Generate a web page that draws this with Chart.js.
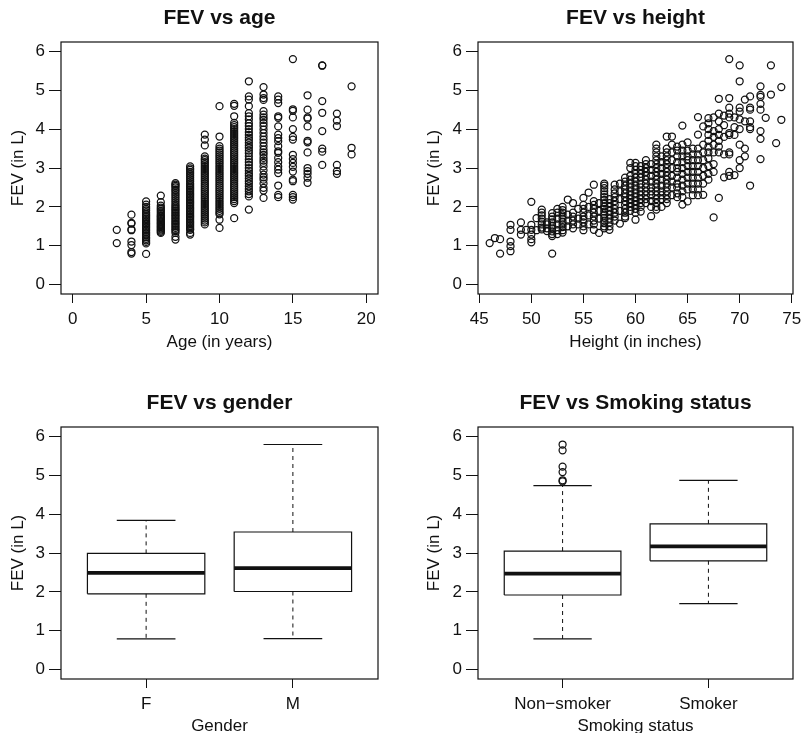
<!DOCTYPE html>
<html><head><meta charset="utf-8">
<script src="https://cdn.jsdelivr.net/npm/chart.js@4.4.1/dist/chart.umd.min.js"></script>
<style>
html,body{margin:0;padding:0;background:#fff;overflow:hidden;width:802px;height:733px}
canvas{position:absolute;display:block}
</style></head>
<body>
<canvas id="cAge" width="401" height="366" style="left:0;top:0"></canvas>
<canvas id="cHeight" width="401" height="366" style="left:401px;top:0"></canvas>
<canvas id="cGender" width="401" height="380" style="left:0;top:366px"></canvas>
<canvas id="cSmoke" width="401" height="380" style="left:401px;top:366px"></canvas>
<script>
// ---------------- data ----------------
const ageLevels = [3,4,5,6,7,8,9,10,11,12,13,14,15,16,17,18,19];
const fevByAge = [
  [1.41,1.07],
  [1.80,1.59,1.57,1.42,1.40,1.11,1.02,0.84,0.80],
  [2.14,2.06,2.00,1.95,1.91,1.86,1.82,1.78,1.74,1.70,1.66,1.62,1.58,1.55,1.51,1.47,1.43,1.39,1.35,1.31,1.27,1.22,1.18,1.14,1.10,1.06,0.79],
  [2.29,2.12,2.03,1.98,1.94,1.90,1.86,1.82,1.78,1.75,1.72,1.69,1.66,1.63,1.60,1.57,1.54,1.51,1.48,1.45,1.42,1.39,1.36,1.33],
  [2.61,2.57,2.54,2.50,2.45,2.41,2.36,2.31,2.26,2.21,2.16,2.11,2.06,2.02,1.98,1.94,1.90,1.86,1.82,1.78,1.74,1.70,1.66,1.62,1.58,1.54,1.50,1.46,1.42,1.38,1.33,1.23,1.16],
  [3.04,2.99,2.95,2.90,2.85,2.80,2.75,2.70,2.65,2.60,2.56,2.52,2.48,2.44,2.40,2.36,2.32,2.28,2.24,2.20,2.16,2.12,2.08,2.04,2.00,1.96,1.92,1.88,1.84,1.80,1.76,1.72,1.68,1.64,1.60,1.56,1.52,1.48,1.44,1.41,1.33,1.29],
  [3.86,3.73,3.58,3.30,3.24,3.20,3.15,3.10,3.05,3.00,2.95,2.90,2.85,2.80,2.75,2.70,2.65,2.60,2.55,2.50,2.45,2.40,2.35,2.30,2.25,2.20,2.15,2.10,2.05,2.00,1.95,1.90,1.85,1.80,1.75,1.70,1.65,1.60,1.55],
  [4.59,3.81,3.56,3.50,3.45,3.40,3.35,3.30,3.25,3.20,3.15,3.10,3.05,3.00,2.95,2.90,2.85,2.80,2.75,2.70,2.65,2.60,2.55,2.50,2.45,2.40,2.35,2.30,2.25,2.20,2.15,2.10,2.05,2.00,1.95,1.90,1.85,1.81,1.67,1.46],
  [4.65,4.60,4.33,4.16,4.10,4.05,4.00,3.95,3.90,3.85,3.80,3.75,3.70,3.65,3.60,3.55,3.50,3.45,3.40,3.35,3.30,3.25,3.20,3.15,3.10,3.05,3.00,2.95,2.90,2.85,2.80,2.75,2.70,2.65,2.60,2.55,2.50,2.45,2.40,2.35,2.30,2.25,2.20,2.15,2.10,1.71],
  [5.23,4.84,4.76,4.59,4.41,4.33,4.25,4.15,4.08,4.00,3.92,3.85,3.78,3.72,3.65,3.58,3.52,3.45,3.38,3.30,3.22,3.15,3.08,3.00,2.93,2.86,2.80,2.73,2.66,2.60,2.53,2.46,2.40,2.33,2.27,1.93],
  [5.08,4.89,4.80,4.75,4.46,4.37,4.30,4.24,4.16,4.08,3.99,3.90,3.81,3.73,3.65,3.56,3.47,3.40,3.34,3.26,3.19,3.13,3.04,2.94,2.83,2.76,2.70,2.60,2.49,2.42,2.23],
  [4.84,4.76,4.67,4.33,4.29,4.07,3.86,3.77,3.69,3.56,3.43,3.39,3.26,3.15,3.04,2.96,2.87,2.55,2.31,2.25],
  [5.80,4.51,4.47,4.30,4.00,3.80,3.73,3.34,3.23,3.13,3.03,2.91,2.70,2.66,2.31,2.25,2.19],
  [4.87,4.50,4.30,4.27,4.07,3.70,3.66,3.40,3.00,2.92,2.85,2.75,2.62],
  [5.64,5.63,4.72,4.42,3.95,3.50,3.42,3.08],
  [4.40,4.22,4.08,3.08,2.92,2.85],
  [5.10,3.52,3.35]
];
const heightLevels = [46,46.5,47,48,49,49.5,50,50.5,51,51.5,52,52.5,53,53.5,54,54.5,55,55.5,56,56.5,57,57.5,58,58.5,59,59.5,60,60.5,61,61.5,62,62.5,63,63.5,64,64.5,65,65.5,66,66.5,67,67.5,68,68.5,69,69.5,70,70.5,71,72,72.5,73,73.5,74];
const fevByHeight = [
  [1.07],
  [1.20],
  [1.17,0.80],
  [1.54,1.41,1.11,0.99,0.86],
  [1.60,1.41,1.29],
  [1.41],
  [2.13,1.54,1.41,1.29,1.17,1.09],
  [1.71,1.40],
  [1.93,1.85,1.78,1.70,1.62,1.55,1.47,1.42],
  [1.60,1.55,1.45,1.38],
  [1.84,1.75,1.68,1.60,1.52,1.45,1.37,1.30,1.25,0.80],
  [1.95,1.85,1.70,1.55,1.40,1.30],
  [2.00,1.92,1.85,1.78,1.70,1.62,1.55,1.48,1.40,1.34],
  [2.19,1.80,1.65,1.50],
  [2.10,1.85,1.75,1.65,1.55,1.45],
  [1.95,1.70,1.55],
  [2.23,2.05,1.95,1.85,1.75,1.68,1.60,1.50,1.40],
  [2.37,2.00,1.78,1.55],
  [2.57,2.15,2.05,1.95,1.85,1.75,1.65,1.55,1.41],
  [2.10,1.90,1.70,1.33],
  [2.60,2.55,2.48,2.40,2.32,2.25,2.18,2.10,2.02,1.95,1.88,1.80,1.72,1.65,1.58,1.50,1.45],
  [2.20,2.10,2.00,1.90,1.80,1.70,1.60,1.50,1.41],
  [2.57,2.45,2.35,2.25,2.15,2.05,1.95,1.85,1.75,1.65],
  [2.60,2.40,2.20,1.90,1.57],
  [2.75,2.65,2.55,2.45,2.35,2.25,2.15,2.05,1.95,1.85,1.75,1.71],
  [3.13,3.00,2.80,2.70,2.60,2.50,2.40,2.30,2.20,2.10,2.00,1.90],
  [3.13,3.05,2.95,2.85,2.75,2.65,2.55,2.45,2.35,2.25,2.15,2.05,1.95,1.85,1.67],
  [3.05,2.95,2.85,2.75,2.60,2.50,2.40,2.30,2.20,2.10,2.00,1.88],
  [3.20,3.10,3.00,2.90,2.80,2.70,2.60,2.50,2.40,2.30,2.20,2.10],
  [3.10,2.95,2.80,2.65,2.50,2.40,2.30,2.15,2.00,1.76],
  [3.60,3.50,3.40,3.30,3.20,3.10,3.00,2.90,2.80,2.70,2.60,2.50,2.40,2.30,2.20,2.10,2.00,1.93],
  [3.30,3.15,3.00,2.85,2.70,2.55,2.40,2.30,2.20,2.00],
  [3.81,3.50,3.40,3.30,3.20,3.10,3.00,2.90,2.80,2.70,2.60,2.50,2.40,2.30,2.20,2.10],
  [3.81,3.60,3.40,3.20,3.00,2.80,2.65,2.50,2.30],
  [3.55,3.45,3.30,3.15,3.00,2.90,2.75,2.60,2.50,2.35,2.25],
  [4.09,3.60,3.45,3.30,3.15,3.00,2.85,2.70,2.55,2.40,2.25,2.06],
  [3.66,3.45,3.30,3.20,3.05,2.90,2.75,2.60,2.45,2.14],
  [3.50,3.35,3.20,3.05,2.90,2.75,2.60,2.45,2.30],
  [4.31,3.86,3.50,3.35,3.20,3.05,2.90,2.75,2.60,2.45,2.30],
  [4.07,3.60,3.40,3.20,3.00,2.80,2.60,2.31],
  [4.28,4.15,4.00,3.85,3.70,3.55,3.40,3.25,3.05,2.85,2.70],
  [4.30,3.95,3.80,3.60,3.40,3.10,2.90,1.73],
  [4.78,4.40,4.20,4.00,3.85,3.70,3.55,3.40,2.23],
  [4.35,4.10,3.80,3.35,2.76],
  [5.80,4.80,4.55,4.40,4.30,3.90,3.85,3.40,3.35,2.90,2.80],
  [4.30,4.05,3.85,2.82],
  [5.64,5.23,4.55,4.45,4.25,4.00,3.60,3.20,3.00],
  [4.76,4.20,3.50,3.30],
  [4.84,4.55,4.50,4.20,4.05,4.00,2.55],
  [5.10,4.88,4.83,4.65,4.50,3.95,3.75,3.23],
  [4.29],
  [5.64,4.89],
  [3.64],
  [5.08,4.24]
];
const ageTicks = [0,5,10,15,20];
const heightTicks = [45,50,55,60,65,70,75];
const fevTicks = [0,1,2,3,4,5,6];

const genderLabels = ['F','M'];
const genderMin    = [0.79, 0.80];
const genderQ1     = [1.95, 2.01];
const genderMedian = [2.49, 2.61];
const genderQ3     = [2.99, 3.54];
const genderMax    = [3.84, 5.79];
const genderOutliers = [[], []];

const smokeLabels = ['Non\u2212smoker','Smoker'];
const smokeMin    = [0.79, 1.70];
const smokeQ1     = [1.92, 2.80];
const smokeMedian = [2.47, 3.17];
const smokeQ3     = [3.05, 3.75];
const smokeMax    = [4.73, 4.87];
const smokeOutliers = [[5.79,5.64,5.22,5.08,4.87,4.84], []];

// ---------------- styling ----------------
const FONT = "'Liberation Sans', Arial, Helvetica, sans-serif";
const INK = '#111';
const BOX_WEX = 0.8;     // box width in category units (R default)
const STAPLE = 0.5;      // staple width relative to box width

const framePlugin = {
  id: 'frame',
  afterDatasetsDraw(chart) {
    const {ctx, chartArea: a} = chart;
    ctx.save();
    ctx.strokeStyle = INK;
    ctx.lineWidth = 1.2;
    ctx.strokeRect(a.left, a.top, a.right - a.left, a.bottom - a.top);
    ctx.restore();
  }
};

function xAxis(min, max, ticks, labels, title, height, titlePad) {
  return {
    type: 'linear', position: 'bottom', min, max,
    afterBuildTicks: s => { s.ticks = ticks.map(v => ({value: v})); },
    afterFit: s => { s.height = height; s.paddingLeft = 0; s.paddingRight = 0; },
    grid: {display: true, drawOnChartArea: false, drawTicks: true, tickLength: 9, color: INK, lineWidth: 1},
    border: {display: false},
    ticks: {
      autoSkip: false, maxRotation: 0, minRotation: 0, padding: 5.8, color: INK,
      font: {family: FONT, size: 17},
      callback: v => labels ? labels[ticks.indexOf(v)] : String(v)
    },
    title: {display: true, text: title, color: INK, font: {family: FONT, size: 17}, padding: {top: 0, bottom: titlePad}}
  };
}
function yAxis(width, titlePad) {
  return {
    type: 'linear', position: 'left', min: -0.24, max: 6.24,
    afterBuildTicks: s => { s.ticks = fevTicks.map(v => ({value: v})); },
    afterFit: s => { s.width = width; s.paddingTop = 0; s.paddingBottom = 0; },
    grid: {display: true, drawOnChartArea: false, drawTicks: true, tickLength: 12, color: INK, lineWidth: 1},
    border: {display: false},
    ticks: {autoSkip: false, padding: 4, color: INK, font: {family: FONT, size: 17}, callback: v => String(v)},
    title: {display: true, text: 'FEV (in L)', color: INK, font: {family: FONT, size: 17}, padding: {top: titlePad, bottom: 0}}
  };
}
function baseOptions(title, titlePadTop, rightPad, xCfg, yCfg) {
  return {
    responsive: false, animation: false, events: [],
    layout: {padding: {left: 0, right: rightPad, top: 0, bottom: 0}},
    plugins: {
      legend: {display: false}, tooltip: {enabled: false},
      title: {display: true, fullSize: false, text: title, color: INK,
        font: {family: FONT, size: 21, weight: 'bold'},
        padding: {top: titlePadTop, bottom: 11.1}}
    },
    scales: {x: xCfg, y: yCfg}
  };
}
function pointsDataset(levels, values) {
  return {
    data: levels.flatMap((lv, i) => values[i].map(f => ({x: lv, y: f}))),
    pointStyle: 'circle', pointRadius: 3.5, pointBorderWidth: 1.25, borderWidth: 1.25,
    borderColor: INK, pointBorderColor: INK, backgroundColor: 'rgba(0,0,0,0)', pointBackgroundColor: 'rgba(0,0,0,0)'
  };
}
function seg(points, width, dash) {
  return {data: points, showLine: true, pointRadius: 0, borderColor: INK, borderWidth: width,
    borderDash: dash || [], fill: false, tension: 0};
}
function boxDatasets(mins, q1s, meds, q3s, maxs, outs) {
  const ds = [];
  const h = BOX_WEX / 2, c = BOX_WEX * STAPLE / 2;
  mins.forEach((mn, i) => {
    const p = i + 1;
    ds.push(seg([{x: p, y: q3s[i]}, {x: p, y: maxs[i]}], 1, [4, 4]));
    ds.push(seg([{x: p, y: q1s[i]}, {x: p, y: mn}], 1, [4, 4]));
    ds.push(seg([{x: p - c, y: maxs[i]}, {x: p + c, y: maxs[i]}], 1.2));
    ds.push(seg([{x: p - c, y: mn}, {x: p + c, y: mn}], 1.2));
    ds.push(seg([{x: p - h, y: q1s[i]}, {x: p + h, y: q1s[i]}, {x: p + h, y: q3s[i]},
                 {x: p - h, y: q3s[i]}, {x: p - h, y: q1s[i]}], 1.2));
    ds.push(seg([{x: p - h, y: meds[i]}, {x: p + h, y: meds[i]}], 3.6));
    if (outs[i].length) {
      ds.push(pointsDataset([p], [outs[i]]));
    }
  });
  return ds;
}

// ---------------- charts ----------------
new Chart(document.getElementById('cAge'), {
  type: 'scatter',
  data: {datasets: [pointsDataset(ageLevels, fevByAge)]},
  options: baseOptions('FEV vs age', 5.7, 23,
    xAxis(-0.8, 20.8, ageTicks, null, 'Age (in years)', 72, 13.1), yAxis(61, 8.1)),
  plugins: [framePlugin]
});
new Chart(document.getElementById('cHeight'), {
  type: 'scatter',
  data: {datasets: [pointsDataset(heightLevels, fevByHeight)]},
  options: baseOptions('FEV vs height', 5.7, 9,
    xAxis(44.88, 75.12, heightTicks, null, 'Height (in inches)', 72, 13.1), yAxis(77, 23.1)),
  plugins: [framePlugin]
});
new Chart(document.getElementById('cGender'), {
  type: 'scatter',
  data: {datasets: boxDatasets(genderMin, genderQ1, genderMedian, genderQ3, genderMax, genderOutliers)},
  options: baseOptions('FEV vs gender', 24.7, 23,
    xAxis(0.42, 2.58, [1, 2], genderLabels, 'Gender', 67, 9.8), yAxis(61, 8.1)),
  plugins: [framePlugin]
});
new Chart(document.getElementById('cSmoke'), {
  type: 'scatter',
  data: {datasets: boxDatasets(smokeMin, smokeQ1, smokeMedian, smokeQ3, smokeMax, smokeOutliers)},
  options: baseOptions('FEV vs Smoking status', 24.7, 9,
    xAxis(0.42, 2.58, [1, 2], smokeLabels, 'Smoking status', 67, 9.8), yAxis(77, 23.1)),
  plugins: [framePlugin]
});
</script>
</body></html>
